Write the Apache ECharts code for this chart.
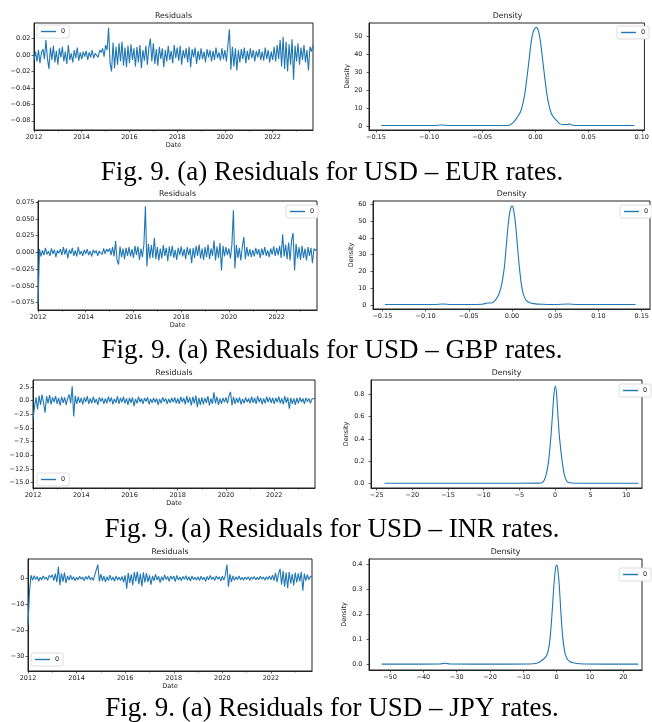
<!DOCTYPE html>
<html>
<head>
<meta charset="utf-8">
<script src="https://cdn.jsdelivr.net/npm/echarts@6/dist/echarts.min.js"></script>
<style>
html,body{margin:0;padding:0;background:#fff}
#chart{width:652px;height:722px}
</style>
</head>
<body>
<div id="chart"></div>
<script>
// residual series, one value every 1/16 year from 2012
var resStart = 2012, resStep = 1 / 16, resEnd = 2023.69;

var eurRes = [
 -0.006, 0.004, -0.008, 0.006, -0.010, 0.003, 0.007, -0.005, 0.018, -0.004, -0.017, 0.009, -0.006, 0.011, -0.009, 0.005,
 -0.012, 0.008, -0.003, 0.010, -0.008, 0.004, -0.011, 0.012, -0.006, 0.002, -0.009, 0.006, -0.004, 0.009, -0.007, 0.003,
 -0.005, 0.004, -0.002, 0.005, -0.006, 0.003, -0.003, 0.006, -0.004, 0.002, 0.004, -0.003, 0.006, 0.003, 0.008, -0.002,
 0.012, 0.006, 0.033, -0.010, -0.020, 0.015, -0.016, 0.010, -0.012, 0.014, -0.008, 0.016, -0.013, 0.009, -0.015, 0.011,
 -0.010, 0.013, -0.006, 0.008, -0.014, 0.010, -0.009, 0.012, -0.016, 0.006, -0.007, 0.011, -0.012, 0.009, 0.020, -0.008,
 0.014, -0.011, 0.007, -0.013, 0.010, -0.005, 0.008, -0.015, 0.006, -0.008, 0.011, -0.006, 0.005, -0.010, 0.012, -0.004,
 0.009, -0.007, 0.011, -0.012, 0.006, -0.004, 0.008, -0.009, 0.010, -0.015, 0.007, -0.003, 0.009, -0.011, 0.005, -0.006,
 0.008, -0.005, 0.004, -0.009, 0.007, -0.003, 0.006, -0.008, 0.005, -0.006, 0.009, -0.004, 0.003, -0.007, 0.008, -0.005,
 0.006, -0.008, 0.012, 0.031, -0.018, 0.010, -0.014, 0.008, -0.019, 0.006, -0.009, 0.007, -0.005, 0.009, -0.010, 0.005,
 -0.006, 0.008, -0.004, 0.006, -0.008, 0.005, -0.003, 0.007, -0.006, 0.004, -0.007, 0.009, -0.005, 0.006, -0.009, 0.004,
 -0.006, 0.010, -0.008, 0.012, -0.005, 0.018, -0.014, 0.022, -0.017, 0.016, -0.020, 0.013, -0.012, 0.019, -0.030, 0.011,
 -0.008, 0.014, -0.012, 0.009, -0.006, 0.012, -0.009, 0.006, -0.019, 0.010, 0.004, 0.012
];
var gbpRes = [
 -0.078, 0.005, -0.006, 0.003, -0.004, 0.007, -0.003, 0.002, -0.005, 0.006, -0.002, 0.004, -0.007, 0.003, -0.001, 0.005,
 -0.004, 0.008, -0.003, 0.006, -0.009, 0.004, -0.002, 0.007, -0.005, 0.003, -0.006, 0.008, -0.003, 0.002, -0.005, 0.004,
 -0.002, 0.005, -0.004, 0.002, -0.006, 0.004, -0.001, 0.003, -0.005, 0.002, 0.004, -0.003, 0.006, -0.002, 0.005, 0.001,
 0.006, -0.004, 0.008, -0.006, 0.017, -0.012, -0.018, 0.009, -0.007, 0.006, -0.010, 0.007, -0.005, 0.008, -0.006, 0.005,
 -0.008, 0.010, -0.004, 0.009, -0.011, 0.006, -0.007, 0.012, 0.069, -0.021, 0.013, -0.009, 0.011, -0.008, 0.022, -0.010,
 0.008, -0.012, 0.006, -0.009, 0.011, -0.005, 0.007, -0.013, 0.009, -0.006, 0.010, -0.008, 0.004, -0.011, 0.007, -0.004,
 0.009, -0.006, 0.005, -0.010, 0.008, -0.004, 0.006, -0.016, 0.007, -0.008, 0.010, -0.005, 0.012, -0.009, 0.006, -0.011,
 0.008, -0.007, 0.012, -0.010, 0.006, -0.005, 0.018, -0.012, 0.009, -0.008, 0.014, -0.027, 0.010, -0.006, 0.008, -0.004,
 0.006, -0.009, 0.012, 0.063, -0.024, 0.011, -0.008, 0.007, -0.012, 0.009, 0.023, -0.010, 0.008, -0.006, 0.005, -0.007,
 0.004, -0.006, 0.007, -0.003, 0.005, -0.008, 0.006, -0.004, 0.008, -0.005, 0.003, -0.007, 0.006, -0.003, 0.009, -0.005,
 0.007, -0.004, 0.010, -0.008, 0.027, -0.006, 0.012, -0.010, 0.015, -0.012, 0.018, 0.029, -0.027, 0.013, -0.009, 0.008,
 -0.011, 0.010, -0.008, 0.006, -0.012, 0.008, -0.005, 0.007, -0.016, 0.006, 0.003, 0.005
];
var inrRes = [
 -3.4, -1.2, 0.6, -1.6, 0.9, -0.8, 1.1, -0.4, -2.2, 0.8, -0.5, 1.0, -0.7, 0.6, -0.3, 0.8,
 -0.6, 0.5, -0.9, 0.7, -0.4, 0.6, -0.8, 0.4, 1.1, -0.5, 2.6, -2.9, 0.9, -0.6, 0.7, -0.4,
 0.5, -0.7, 0.6, -0.3, 0.8, -0.6, 0.4, -0.5, 0.7, -0.4, 0.3, -0.8, 0.6, -0.2, 0.5, -0.6,
 0.4, -0.5, 0.7, -0.3, 0.6, -0.7, 0.3, -0.4, 0.8, -0.6, 0.5, -0.3, 0.7, -0.5, 0.4, -0.8,
 0.5, -0.4, 0.6, -1.0, 0.3, -0.5, 0.7, -0.3, 0.4, -0.6, 0.5, -0.2, 0.6, -0.7, 0.3, -0.4,
 0.5, -0.3, 0.4, -0.8, 0.3, -0.5, 0.6, -0.2, 0.4, -0.6, 0.3, -0.4, 0.5, -0.3, 0.6, -0.5,
 0.4, -0.6, 0.7, -0.3, 0.5, -0.7, 0.8, -0.4, 0.6, -0.9, 0.7, -0.5, 0.9, -1.2, 0.5, -0.8,
 0.6, -0.7, 0.5, -0.4, 0.8, -0.9, 0.4, -0.6, 1.5, -0.5, 0.7, -0.8, 0.4, -0.6, 0.5, -0.3,
 0.6, -0.5, 0.8, 1.6, -0.9, 0.7, -0.6, 0.5, -0.4, 0.6, -0.7, 0.3, -0.5, 0.6, -0.3, 0.4,
 -0.5, 0.7, -0.4, 0.5, -0.6, 0.8, -0.3, 0.5, -0.7, 0.4, -0.5, 0.7, -0.3, 0.6, -0.4, 0.5,
 -0.6, 0.5, -0.3, 0.7, -0.5, 0.4, -0.7, 0.8, -0.4, 0.6, -1.5, 0.5, -0.6, 0.4, -0.8, 0.5,
 -0.5, 0.6, -0.3, 0.4, -0.6, 0.5, -0.2, 0.4, -0.5, 0.3, 0.2, 0.4
];
var jpyRes = [
 -18.0, -5.0, 1.2, -0.8, 1.0, -0.5, 0.7, -1.1, 0.4, -0.6, 0.9, -0.3, 0.5, -0.8, 1.1, 0.3,
 1.4, -0.9, 1.8, -1.5, 4.4, -2.6, 1.9, -1.3, 2.2, -1.8, 0.9, -0.7, 1.2, -0.5, 0.6, -0.9,
 0.4, -0.6, 0.8, -0.3, 0.5, -0.9, 0.7, -0.4, 1.0, -0.6, 0.3, -0.8, 1.3, 0.8, 5.2, -1.2,
 1.6, -1.0, 0.8, -1.4, 0.6, -0.9, 1.2, -0.7, 0.5, -1.1, 0.9, -0.6, 0.4, -0.8, 0.7, -1.5,
 1.2, -4.0, 2.1, -1.8, 1.5, -2.6, 2.4, -1.2, 2.6, -2.2, 1.7, -3.1, 2.3, -1.6, 2.0, -1.4,
 1.1, -2.4, 0.9, -1.0, 1.5, -0.7, 0.8, -1.6, 0.6, -0.9, 1.3, -0.5, 0.7, -1.2, 0.9, -0.4,
 0.8, -1.3, 1.1, -0.6, 0.5, -0.9, 0.7, -0.4, 1.0, -0.8, 0.6, -1.1, 0.9, -0.5, 0.4, -0.7,
 0.6, -0.9, 0.8, -0.5, 0.4, -1.2, 0.7, -0.6, 1.1, -0.4, 0.5, -0.8, 0.9, -0.3, 0.6, -1.0,
 0.8, -0.7, 1.2, 5.3, -3.2, 1.6, -1.4, 0.9, -0.8, 0.6, -0.5, 0.9, -0.6, 0.4, -0.7, 0.5,
 -0.4, 0.6, -0.8, 0.5, -0.3, 0.7, -0.6, 0.4, -0.5, 0.8, -0.3, 0.5, -0.7, 0.6, -0.4, 0.9,
 -0.6, 1.2, -0.9, 2.1, -1.5, 1.8, 3.6, -2.4, 2.8, -3.2, 2.2, -3.8, 2.5, -2.0, 1.6, -2.7,
 2.2, -1.6, 1.9, -1.2, 2.5, -4.7, 1.8, -0.9, 1.4, -0.6, 0.8, 0.5
];

// kernel density curves
var eurDensX = [-0.145, -0.12, -0.095, -0.088, -0.08, -0.06, -0.04, -0.03, -0.024, -0.02, -0.017, -0.014, -0.012, -0.010, -0.008, -0.006, -0.004, -0.002, 0.0, 0.001, 0.003, 0.005, 0.007, 0.009, 0.011, 0.013, 0.015, 0.017, 0.020, 0.023, 0.026, 0.030, 0.032, 0.034, 0.040, 0.060, 0.080, 0.093];
var eurDensY = [0.3, 0.3, 0.3, 0.6, 0.3, 0.3, 0.3, 0.3, 0.6, 2.5, 5, 8, 12, 18, 27, 37, 47, 53, 55, 55.2, 53, 46, 36, 26, 17, 11, 7, 5, 3, 1.2, 0.8, 0.8, 1.2, 0.6, 0.3, 0.3, 0.3, 0.3];
var gbpDensX = [-0.147, -0.12, -0.09, -0.08, -0.07, -0.05, -0.035, -0.028, -0.024, -0.020, -0.016, -0.013, -0.011, -0.009, -0.007, -0.005, -0.003, -0.001, 0.0, 0.001, 0.003, 0.005, 0.007, 0.009, 0.0115, 0.014, 0.017, 0.020, 0.025, 0.035, 0.05, 0.065, 0.075, 0.10, 0.12, 0.143];
var gbpDensY = [0.3, 0.3, 0.3, 0.6, 0.3, 0.3, 0.4, 1.2, 1.2, 2.5, 5.5, 10, 15, 22, 33, 45, 54, 58.5, 59, 58.5, 53, 43, 31, 20, 10, 5, 2.5, 1.5, 0.8, 0.4, 0.3, 0.6, 0.3, 0.3, 0.3, 0.3];
var inrDensX = [-23.9, -20, -15, -10, -5, -2.5, -1.8, -1.5, -1.2, -0.9, -0.6, -0.37, -0.15, 0.05, 0.2, 0.42, 0.65, 1.0, 1.3, 1.6, 2.0, 3, 5, 8, 11.7];
var inrDensY = [0.001, 0.001, 0.001, 0.001, 0.001, 0.002, 0.005, 0.03, 0.09, 0.2, 0.4, 0.6, 0.8, 0.875, 0.82, 0.6, 0.4, 0.2, 0.08, 0.025, 0.005, 0.001, 0.001, 0.001, 0.001];
var jpyDensX = [-52.5, -40, -35, -33.5, -32, -25, -15, -8, -6, -5, -4, -3, -2.3, -1.8, -1.3, -0.8, -0.3, 0, 0.3, 0.8, 1.3, 1.8, 2.4, 3, 4, 5, 6, 8, 15, 24.5];
var jpyDensY = [0.0005, 0.0005, 0.001, 0.004, 0.001, 0.0005, 0.0005, 0.001, 0.004, 0.01, 0.02, 0.035, 0.07, 0.13, 0.22, 0.32, 0.385, 0.396, 0.385, 0.31, 0.2, 0.11, 0.05, 0.025, 0.01, 0.006, 0.003, 0.001, 0.0005, 0.0005];

// tick labels
var yearTicks = [2012, 2014, 2016, 2018, 2020, 2022];
var minorYears = [2013, 2015, 2017, 2019, 2021, 2023];
var eurResTicks = [-0.08, -0.06, -0.04, -0.02, 0, 0.02];
var gbpResTicks = [-0.075, -0.05, -0.025, 0, 0.025, 0.05, 0.075];
var inrResTicks = [-15, -12.5, -10, -7.5, -5, -2.5, 0, 2.5];
var jpyResTicks = [-30, -20, -10, 0];
var eurDensTicksX = [-0.15, -0.1, -0.05, 0, 0.05, 0.1];
var eurDensTicksY = [0, 10, 20, 30, 40, 50];
var gbpDensTicksX = [-0.15, -0.1, -0.05, 0, 0.05, 0.1, 0.15];
var gbpDensTicksY = [0, 10, 20, 30, 40, 50, 60];
var inrDensTicksX = [-25, -20, -15, -10, -5, 0, 5, 10];
var inrDensTicksY = [0, 0.2, 0.4, 0.6, 0.8];
var jpyDensTicksX = [-50, -40, -30, -20, -10, 0, 10, 20];
var jpyDensTicksY = [0, 0.1, 0.2, 0.3, 0.4];

var captions = [
 'Fig. 9. (a) Residuals for USD \u2013 EUR rates.',
 'Fig. 9. (a) Residuals for USD \u2013 GBP rates.',
 'Fig. 9. (a) Residuals for USD \u2013 INR rates.',
 'Fig. 9. (a) Residuals for USD \u2013 JPY rates.'
];

var BLUE = '#1f77b4', INK = '#222', FONT = 'DejaVu Sans';

function fmt(dec) {
	return function (v) {
		var s = Math.abs(v).toFixed(dec);
		return (v < 0 && Number(s) !== 0 ? '\u2212' : '') + s;
	};
}
function resPairs(vals) {
	return vals.map(function (v, i) { return [resStart + i * resStep, v]; });
}
function zip(xs, ys) {
	return xs.map(function (x, i) { return [x, ys[i]]; });
}

var panels = [
	{box: [34, 23, 279, 107], res: true, data: resPairs(eurRes), x: [resStart, resEnd], y: [-0.0912, 0.0388], xt: yearTicks, yt: eurResTicks, xd: 0, yd: 2, leg: [37, 25]},
	{box: [369, 23, 277, 107], res: false, data: zip(eurDensX, eurDensY), x: [-0.1565, 0.1025], y: [-2.24, 57.7], xt: eurDensTicksX, yt: eurDensTicksY, xd: 2, yd: 0, leg: [617, 26]},
	{box: [38, 201, 279, 109], res: true, data: resPairs(gbpRes), x: [resStart, resEnd], y: [-0.0859, 0.0769], xt: yearTicks, yt: gbpResTicks, xd: 0, yd: 3, leg: [286, 205]},
	{box: [373, 201, 277, 108], res: false, data: zip(gbpDensX, gbpDensY), x: [-0.1608, 0.1596], y: [-2.4, 62], xt: gbpDensTicksX, yt: gbpDensTicksY, xd: 2, yd: 0, leg: [620, 205]},
	{box: [33, 380, 282, 108], res: true, data: resPairs(inrRes), x: [resStart, resEnd], y: [-15.98, 3.76], xt: yearTicks, yt: inrResTicks, xd: 0, yd: 1, leg: [37, 473]},
	{box: [371, 380, 271, 108], res: false, data: zip(inrDensX, inrDensY), x: [-25.8, 12.2], y: [-0.042, 0.929], xt: inrDensTicksX, yt: inrDensTicksY, xd: 0, yd: 1, leg: [619, 384]},
	{box: [28, 559, 284, 112], res: true, data: resPairs(jpyRes), x: [resStart, resEnd], y: [-35.5, 7.4], xt: yearTicks, yt: jpyResTicks, xd: 0, yd: 0, leg: [31, 653]},
	{box: [369, 559, 273, 111], res: false, data: zip(jpyDensX, jpyDensY), x: [-56.3, 25.6], y: [-0.023, 0.42], xt: jpyDensTicksX, yt: jpyDensTicksY, xd: 0, yd: 1, leg: [619, 568]}
];

var grids = [], xAxes = [], yAxes = [], series = [], legends = [], texts = [];
var lblStyle = {fontSize: 6.5, color: INK, fontFamily: FONT};

panels.forEach(function (p, g) {
	var b = p.box;
	grids.push({left: b[0], top: b[1], width: b[2], height: b[3], show: true, borderColor: INK, borderWidth: 1, backgroundColor: 'transparent'});
	var xi = xAxes.length;
	var xAx = {
		type: 'value', gridIndex: g, min: p.x[0], max: p.x[1], z: 1,
		splitLine: {show: false},
		axisLine: {show: true, onZero: false, lineStyle: {color: INK, width: 1}},
		axisTick: {show: true, length: 2.5, customValues: p.xt, lineStyle: {color: INK, width: 0.7}},
		axisLabel: Object.assign({customValues: p.xt, formatter: fmt(p.xd), margin: 3.5}, lblStyle)
	};
	xAxes.push(xAx);
	if (p.res) {
		xAx.name = 'Date';
		xAx.nameLocation = 'middle';
		xAx.nameGap = 12;
		xAx.nameTextStyle = Object.assign({}, lblStyle);
		// minor year ticks
		xAxes.push({
			type: 'value', gridIndex: g, min: p.x[0], max: p.x[1], position: 'bottom',
			splitLine: {show: false}, axisLine: {show: false, onZero: false},
			axisTick: {show: true, length: 1.5, customValues: minorYears, lineStyle: {color: INK, width: 0.6}},
			axisLabel: {show: false}
		});
	}
	var yi = yAxes.length;
	var yAx = {
		type: 'value', gridIndex: g, min: p.y[0], max: p.y[1], z: 1,
		splitLine: {show: false},
		axisLine: {show: true, onZero: false, lineStyle: {color: INK, width: 1}},
		axisTick: {show: true, length: 2.5, customValues: p.yt, lineStyle: {color: INK, width: 0.7}},
		axisLabel: Object.assign({customValues: p.yt, formatter: fmt(p.yd), margin: p.res ? 3.5 : 6.5}, lblStyle)
	};
	if (!p.res) {
		yAx.name = 'Density';
		yAx.nameLocation = 'middle';
		yAx.nameGap = 11;
		yAx.nameTextStyle = Object.assign({}, lblStyle);
	}
	yAxes.push(yAx);
	series.push({
		name: '0', type: 'line', xAxisIndex: xi, yAxisIndex: yi, data: p.data,
		symbol: 'none', smooth: p.res ? false : 0.3, clip: true,
		lineStyle: {color: BLUE, width: 1.1},
		itemStyle: {color: BLUE}
	});
	legends.push({
		data: ['0'], left: p.leg[0], top: p.leg[1], orient: 'vertical',
		icon: 'rect', itemWidth: 15, itemHeight: 1.4, padding: [3, 4, 3, 4],
		borderColor: '#d4d4d4', borderWidth: 0.8, borderRadius: 2, backgroundColor: '#fff',
		textStyle: Object.assign({}, lblStyle), selectedMode: false
	});
	texts.push({
		type: 'text', x: b[0] + b[2] / 2, y: b[1] - 7.5, z: 10,
		style: {text: p.res ? 'Residuals' : 'Density', fill: INK, font: '7.8px "DejaVu Sans"', align: 'center', verticalAlign: 'middle'}
	});
});

var capY = [173, 351, 530, 709];
captions.forEach(function (c, i) {
	texts.push({
		type: 'text', x: 332, y: capY[i], z: 10,
		style: {text: c, fill: '#000', font: '27px "Liberation Serif"', align: 'center', verticalAlign: 'middle'}
	});
});

var chart = echarts.init(document.getElementById('chart'));
chart.setOption({
	animation: false,
	backgroundColor: '#fff',
	grid: grids,
	xAxis: xAxes,
	yAxis: yAxes,
	legend: legends,
	series: series,
	graphic: texts
});
</script>
</body>
</html>
